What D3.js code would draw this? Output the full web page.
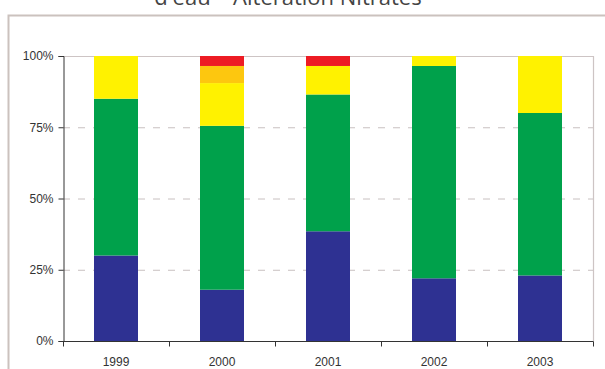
<!DOCTYPE html>
<html><head><meta charset="utf-8">
<script src="https://cdn.jsdelivr.net/npm/d3@7"></script>
<style>html,body{margin:0;padding:0;background:#fff;}svg{display:block;}</style>
</head><body>
<script>
const title = "d'eau – Altération Nitrates";
const years = ["1999", "2000", "2001", "2002", "2003"];
const seriesNames = ["bleu", "vert", "jaune", "orange", "rouge"];
const blue   = [30, 18, 38.5, 22, 23];
const green  = [55, 57.5, 48, 74.5, 57];
const yellow = [15, 15, 10, 3.5, 20];
const orange = [0, 6, 0, 0, 0];
const red    = [0, 3.5, 3.5, 0, 0];
const yTicks = [0, 25, 50, 75, 100];
const colors = ["#2e3192", "#00a14b", "#fff200", "#fdc70f", "#ed1c24"];

const W = 605, H = 369;
const m = {left: 63, right: 12, top: 56, bottom: 28};
const svg = d3.select("body").append("svg").attr("width", W).attr("height", H);

// outer frame
svg.append("path").attr("d", `M8.5,${H+5} V15.5 H${W+5}`)
  .attr("fill", "none").attr("stroke", "#cbc2be").attr("stroke-width", 2);

svg.append("text").attr("x", 288).attr("y", 4.5).attr("text-anchor", "middle")
  .attr("font-family", "Open Sans").attr("font-size", 22).attr("fill", "#444")
  .text(title);

const table = years.map((y, i) => ({year: y, bleu: blue[i], vert: green[i], jaune: yellow[i], orange: orange[i], rouge: red[i]}));
const stack = d3.stack().keys(seriesNames)(table);

const x = d3.scaleBand().domain(years).range([m.left, W - m.right]).paddingInner(0.585).paddingOuter(0.2925);
const y = d3.scaleLinear().domain([0, 100]).range([H - m.bottom, m.top]);

// grid
svg.append("g").selectAll("line").data([25, 50, 75]).join("line")
  .attr("x1", m.left).attr("x2", W - m.right).attr("y1", d => y(d) + 0.5).attr("y2", d => y(d) + 0.5)
  .attr("stroke", "#c8c0c0").attr("stroke-width", 1).attr("stroke-dasharray", "7,8");
// top + right border of plot
svg.append("path").attr("d", `M${m.left},${y(100)+0.5} H${W - m.right + 0.5} V${y(0)}`)
  .attr("fill", "none").attr("stroke", "#cdc4c4").attr("stroke-width", 1.2);

svg.append("g").selectAll("g").data(stack).join("g").attr("fill", (d, i) => colors[i])
  .selectAll("rect").data(d => d).join("rect")
  .attr("x", d => x(d.data.year)).attr("width", x.bandwidth())
  .attr("y", d => y(d[1])).attr("height", d => y(d[0]) - y(d[1]));

// y axis
const ya = svg.append("g").attr("transform", `translate(${m.left + 0.5},0)`)
  .call(d3.axisLeft(y).tickValues(yTicks).tickFormat(d => d + "%").tickSize(5).tickPadding(5));
ya.selectAll("path,line").attr("stroke", "#333");
ya.selectAll("text").attr("font-family", "Liberation Sans").attr("font-size", 12).attr("fill", "#333");

// x axis with ticks at band boundaries
const xa = svg.append("g").attr("transform", `translate(0,${y(0) + 0.5})`);
xa.append("line").attr("x1", m.left).attr("x2", W - m.right + 0.5).attr("stroke", "#333");
xa.selectAll("line.t").data(d3.range(years.length + 1)).join("line").attr("class", "t")
  .attr("x1", i => m.left + 0.5 + i * (W - m.right - m.left) / years.length)
  .attr("x2", i => m.left + 0.5 + i * (W - m.right - m.left) / years.length)
  .attr("y1", 0).attr("y2", 5).attr("stroke", "#333");
xa.selectAll("text").data(years).join("text")
  .attr("x", d => x(d) + x.bandwidth() / 2).attr("y", 24).attr("text-anchor", "middle")
  .attr("font-family", "Liberation Sans").attr("font-size", 12).attr("fill", "#333").text(d => d);
</script>
</body></html>
